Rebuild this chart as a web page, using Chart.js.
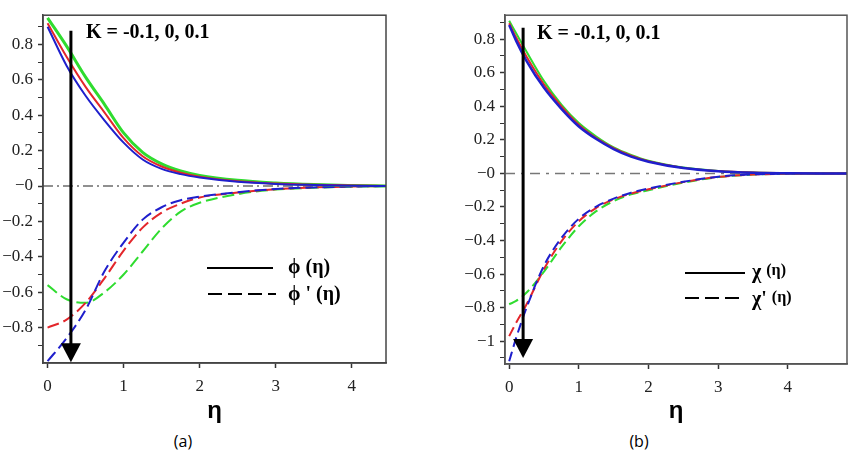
<!DOCTYPE html>
<html>
<head>
<meta charset="utf-8">
<script src="https://cdn.jsdelivr.net/npm/chart.js@4.4.0/dist/chart.umd.min.js"></script>
<style>
body { margin: 0; background: #fff; width: 852px; height: 462px; position: relative; overflow: hidden; }
canvas { position: absolute; top: 0; }
#chartA { left: 0; }
#chartB { left: 430px; }
.lbl { position: absolute; white-space: nowrap; font-family: "Liberation Serif", serif; color: #000; }
.k { font-weight: bold; font-size: 20px; line-height: 20px; }
.leg { font-weight: bold; font-size: 20px; line-height: 20px; }
.sm { font-size: 16px; position: relative; top: -3px; }
.cap { font-family: "Open Sans", "Liberation Sans", sans-serif; font-size: 16px; line-height: 18px; transform: translateX(-50%); }
</style>
</head>
<body>
<canvas id="chartA" width="420" height="430"></canvas>
<canvas id="chartB" width="422" height="430"></canvas>

<div class="lbl k" style="left:86px;top:21px">K = -0.1, 0, 0.1</div>
<div class="lbl k" style="left:537px;top:22px">K = -0.1, 0, 0.1</div>
<div class="lbl leg" style="left:288px;top:256px">ϕ (η)</div>
<div class="lbl leg" style="left:288px;top:283px">ϕ ' (η)</div>
<div class="lbl leg" style="left:752px;top:261px">χ <span class="sm">(η)</span></div>
<div class="lbl leg" style="left:752px;top:288px">χ' <span class="sm">(η)</span></div>
<div class="lbl cap" style="left:183px;top:432px">(a)</div>
<div class="lbl cap" style="left:639px;top:432px">(b)</div>

<script>
// panel (a): phi and phi' for K = -0.1 (green), 0 (red), 0.1 (blue)
const etaA = [0, 0.25, 0.5, 0.75, 1, 1.25, 1.5, 1.75, 2, 2.5, 3, 3.5, 4, 4.45];
const phiKm = [0.95, 0.79, 0.615, 0.46, 0.30, 0.19, 0.125, 0.085, 0.06, 0.032, 0.017, 0.008, 0.003, 0];
const phiK0 = [0.92, 0.73, 0.56, 0.415, 0.27, 0.168, 0.11, 0.075, 0.053, 0.027, 0.014, 0.007, 0.003, 0];
const phiKp = [0.90, 0.68, 0.51, 0.37, 0.245, 0.15, 0.097, 0.067, 0.048, 0.024, 0.012, 0.006, 0.002, 0];
const dphiKm = [-0.56, -0.64, -0.66, -0.60, -0.50, -0.37, -0.24, -0.145, -0.095, -0.046, -0.02, -0.01, -0.004, 0];
const dphiK0 = [-0.80, -0.755, -0.66, -0.52, -0.365, -0.235, -0.15, -0.10, -0.065, -0.037, -0.018, -0.008, -0.003, 0];
const dphiKp = [-0.99, -0.86, -0.70, -0.48, -0.32, -0.19, -0.12, -0.08, -0.06, -0.035, -0.017, -0.008, -0.003, 0];

// panel (b): chi and chi'
const etaB = [0, 0.1, 0.25, 0.5, 0.75, 1, 1.25, 1.5, 1.75, 2, 2.5, 3, 3.5, 4, 4.5, 4.85];
const chiKm = [0.91, 0.835, 0.725, 0.55, 0.41, 0.30, 0.22, 0.155, 0.11, 0.075, 0.035, 0.015, 0.005, 0.001, 0, 0];
const chiK0 = [0.895, 0.81, 0.695, 0.53, 0.40, 0.29, 0.21, 0.15, 0.105, 0.072, 0.033, 0.014, 0.005, 0.001, 0, 0];
const chiKp = [0.885, 0.79, 0.67, 0.51, 0.385, 0.28, 0.205, 0.145, 0.10, 0.07, 0.032, 0.013, 0.004, 0.001, 0, 0];
const dchiKm = [-0.78, -0.76, -0.71, -0.585, -0.44, -0.315, -0.225, -0.165, -0.125, -0.10, -0.055, -0.022, -0.007, -0.002, 0, 0];
const dchiK0 = [-0.97, -0.89, -0.78, -0.57, -0.405, -0.285, -0.205, -0.155, -0.12, -0.095, -0.052, -0.021, -0.007, -0.002, 0, 0];
const dchiKp = [-1.12, -0.98, -0.80, -0.55, -0.385, -0.27, -0.198, -0.15, -0.115, -0.09, -0.05, -0.02, -0.006, -0.002, 0, 0];

// axes
const xRangeA = [-0.06, 4.45];
const xRangeB = [-0.06, 4.85];
const yRangeA = [-1.0, 0.965];
const yRangeB = [-1.136, 0.943];
const xTicks = [0, 1, 2, 3, 4];
const yTicksA = [-0.9, -0.8, -0.7, -0.6, -0.5, -0.4, -0.3, -0.2, -0.1, 0, 0.1, 0.2, 0.3, 0.4, 0.5, 0.6, 0.7, 0.8, 0.9];
const yLabelsA = ['', '−0.8', '', '−0.6', '', '−0.4', '', '−0.2', '', '−0', '', '0.2', '', '0.4', '', '0.6', '', '0.8', ''];
const yTicksB = [-1.1, -1, -0.9, -0.8, -0.7, -0.6, -0.5, -0.4, -0.3, -0.2, -0.1, 0, 0.1, 0.2, 0.3, 0.4, 0.5, 0.6, 0.7, 0.8, 0.9];
const yLabelsB = ['', '−1', '', '−0.8', '', '−0.6', '', '−0.4', '', '−0.2', '', '−0', '', '0.2', '', '0.4', '', '0.6', '', '0.8', ''];

// arrows: [eta, top value, tip value]
const arrowA = [0.307, 0.877, -0.996];
const arrowB = [0.20, 0.868, -1.10];

const GREEN = '#2fdc2f', RED = '#e3262b', BLUE = '#1f1fcc';

Chart.defaults.font.family = "'Liberation Serif', 'Times New Roman', serif";
Chart.defaults.font.size = 17;
Chart.defaults.color = '#222';

function pts(xs, ys) {
  return xs.map((x, i) => ({ x: x, y: ys[i] }));
}

function line(data, color, width, dash) {
  return {
    data: data,
    borderColor: color,
    borderWidth: width,
    borderDash: dash || [],
    pointRadius: 0,
    fill: false,
    cubicInterpolationMode: 'monotone'
  };
}

const framePlugin = {
  id: 'frame',
  afterDatasetsDraw(chart) {
    const { ctx, chartArea: a } = chart;
    const o = chart.options.plugins.frame;
    ctx.save();
    ctx.strokeStyle = o.color;
    ctx.lineWidth = 1.5;
    ctx.strokeRect(a.left, a.top, a.right - a.left, a.bottom - a.top);

    // legend samples
    ctx.strokeStyle = '#000';
    ctx.lineWidth = 2;
    o.legend.forEach(l => {
      ctx.setLineDash(l[3]);
      ctx.beginPath();
      ctx.moveTo(l[0], l[2]);
      ctx.lineTo(l[1], l[2]);
      ctx.stroke();
    });
    ctx.setLineDash([]);

    // K arrow
    const xs = chart.scales.x, ys = chart.scales.y;
    const ax = xs.getPixelForValue(o.arrow[0]);
    const top = ys.getPixelForValue(o.arrow[1]);
    const tip = ys.getPixelForValue(o.arrow[2]);
    ctx.lineWidth = 3;
    ctx.beginPath();
    ctx.moveTo(ax, top);
    ctx.lineTo(ax, tip - 16);
    ctx.stroke();
    ctx.fillStyle = '#000';
    ctx.beginPath();
    ctx.moveTo(ax - 10, tip - 19);
    ctx.lineTo(ax + 10, tip - 19);
    ctx.lineTo(ax, tip);
    ctx.closePath();
    ctx.fill();
    ctx.restore();
  }
};

function makeChart(id, cfg) {
  return new Chart(id, {
    type: 'line',
    data: { datasets: cfg.datasets },
    options: {
      responsive: false,
      animation: false,
      events: [],
      layout: { padding: cfg.padding },
      plugins: {
        legend: { display: false },
        tooltip: { enabled: false },
        frame: { color: cfg.frameColor, arrow: cfg.arrow, legend: cfg.legend }
      },
      scales: {
        x: {
          type: 'linear',
          min: cfg.xRange[0],
          max: cfg.xRange[1],
          afterBuildTicks: s => { s.ticks = xTicks.map(v => ({ value: v })); },
          afterFit: s => { s.height = cfg.xHeight; },
          grid: { drawOnChartArea: false, tickLength: 5, color: '#333', tickWidth: 1.5 },
          border: { color: cfg.frameColor, width: 1.5 },
          ticks: { padding: 8, maxRotation: 0, callback: v => String(v) },
          title: {
            display: true,
            text: 'η',
            font: { family: "'Liberation Sans', sans-serif", size: 24, weight: 'bold' },
            color: '#000',
            padding: { top: 0, bottom: 4 }
          }
        },
        y: {
          type: 'linear',
          min: cfg.yRange[0],
          max: cfg.yRange[1],
          afterBuildTicks: s => { s.ticks = cfg.yTicks.map(v => ({ value: v })); },
          afterFit: s => { s.width = cfg.yWidth; },
          grid: {
            drawOnChartArea: false,
            tickLength: 5,
            color: '#333',
            tickWidth: c => (cfg.yLabels[c.index] ? 1.5 : 1)
          },
          border: { color: cfg.frameColor, width: 1.5 },
          ticks: { padding: 5, autoSkip: false, callback: (v, i) => cfg.yLabels[i] }
        }
      }
    },
    plugins: [framePlugin]
  });
}

makeChart('chartA', {
  datasets: [
    line(pts(etaA, phiKp), BLUE, 2),
    line(pts(etaA, phiK0), RED, 2),
    line(pts(etaA, phiKm), GREEN, 3),
    line(pts(etaA, dphiKp), BLUE, 2, [12, 5]),
    line(pts(etaA, dphiK0), RED, 2, [12, 5]),
    line(pts(etaA, dphiKm), GREEN, 2, [12, 5]),
    line(pts(xRangeA, [0, 0]), '#222', 1.2, [10, 4, 2, 4])
  ],
  padding: { top: 7, right: 34, left: 0, bottom: 0 },
  xRange: xRangeA, yRange: yRangeA,
  yTicks: yTicksA, yLabels: yLabelsA,
  xHeight: 67, yWidth: 43,
  frameColor: '#444',
  arrow: arrowA,
  legend: [[207, 273, 268, []], [208, 276, 294, [14, 6]]]
});

makeChart('chartB', {
  datasets: [
    line(pts(etaB, chiKp), BLUE, 2.5),
    line(pts(etaB, chiK0), RED, 2),
    line(pts(etaB, chiKm), GREEN, 2),
    line(pts(etaB, dchiKp), BLUE, 2, [10, 5]),
    line(pts(etaB, dchiK0), RED, 2, [10, 5]),
    line(pts(etaB, dchiKm), GREEN, 2, [10, 5]),
    line(pts(xRangeB, [0, 0]), '#777', 1.5, [10, 6, 3, 6])
  ],
  padding: { top: 7, right: 5, left: 0, bottom: 0 },
  xRange: xRangeB, yRange: yRangeB,
  yTicks: yTicksB, yLabels: yLabelsB,
  xHeight: 66, yWidth: 75,
  frameColor: '#555',
  arrow: arrowB,
  legend: [[255, 315, 273, []], [255, 315, 298, [14, 6]]]
});
</script>
</body>
</html>
